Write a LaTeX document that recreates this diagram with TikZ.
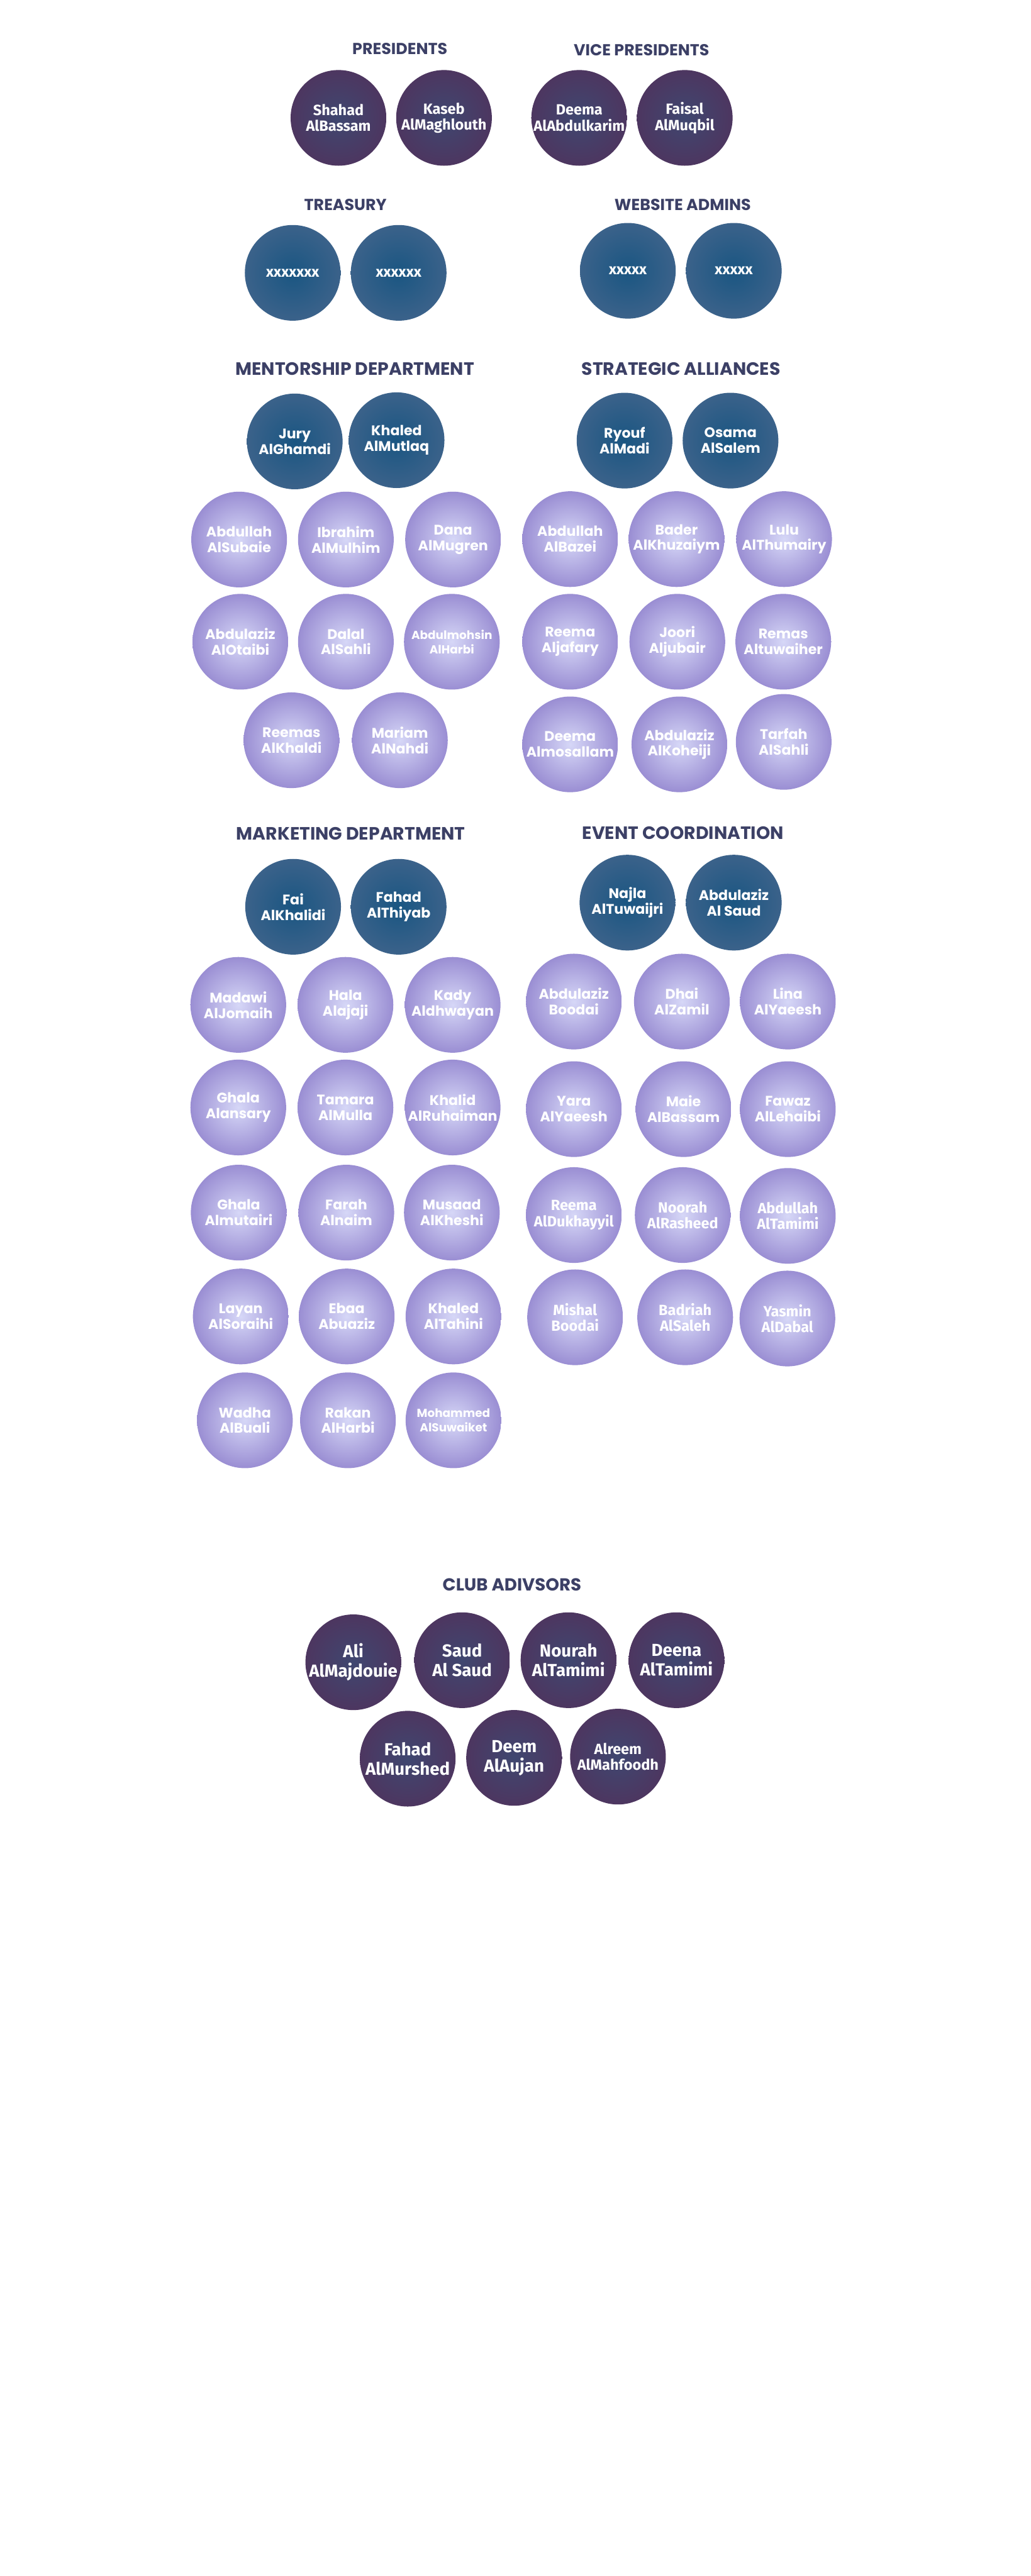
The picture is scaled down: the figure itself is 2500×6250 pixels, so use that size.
\documentclass[tikz,border=0pt]{standalone}
\usepackage{fontspec}
\setmainfont{Poppins}
\newfontfamily\firaf{Fira Sans}
\definecolor{ttl}{HTML}{3C4066}
\definecolor{purpE}{HTML}{4D3660}
\definecolor{purpC}{HTML}{3F4770}
\definecolor{blueE}{HTML}{3B628A}
\definecolor{blueC}{HTML}{1A5682}
\definecolor{lavE}{HTML}{9A8ED3}
\definecolor{lavC}{HTML}{D6D7F7}
\tikzset{
  disc/.style={circle, minimum size=2.32cm, inner sep=0pt},
  pres/.style={disc, inner color=purpC, outer color=purpE},
  lead/.style={disc, inner color=blueC, outer color=blueE},
  lav/.style={disc, inner color=lavC, outer color=lavE},
  nmA/.style={text=white, align=center, inner sep=0pt, font=\firaf\bfseries\fontsize{10.2}{11}\selectfont},
  nmAL/.style={text=white, align=center, inner sep=0pt, font=\firaf\bfseries\fontsize{12}{13.5}\selectfont},
  nmB/.style={text=white, align=center, inner sep=0pt, font=\bfseries\fontsize{9.6}{10.8}\selectfont},
  nmBs/.style={text=white, align=center, inner sep=0pt, font=\bfseries\fontsize{8}{10}\selectfont},
  ttlA/.style={text=ttl, inner sep=0pt, font=\bfseries\fontsize{11}{13}\selectfont},
  ttlB/.style={text=ttl, inner sep=0pt, font=\bfseries\fontsize{12.3}{14}\selectfont}
}
\newcommand\mem[5]{\node[#1] (#2) at (#3) {}; \node[#4] (#2t) at (#2) {#5};}
\begin{document}
\begin{tikzpicture}[x=0.01cm, y=-0.01cm]
\fill[white] (0,0) rectangle (2500,6250);
\useasboundingbox (0,0) rectangle (2500,6250);
% titles
\node[ttlA] (tPres) at (970,118) {PRESIDENTS};
\node[ttlA] (tVice) at (1556,122) {VICE PRESIDENTS};
\node[ttlA] (tTreas) at (838,496) {TREASURY};
\node[ttlA] (tWeb) at (1656,496) {WEBSITE ADMINS};
\node[ttlB] (tMent) at (861,895) {MENTORSHIP DEPARTMENT};
\node[ttlB] (tStrat) at (1652,895) {STRATEGIC ALLIANCES};
\node[ttlB] (tMark) at (851,2023) {MARKETING DEPARTMENT};
\node[ttlB] (tEvent) at (1657,2021) {EVENT COORDINATION};
\node[ttlA, font=\bfseries\fontsize{12}{14}\selectfont] (tAdv) at (1242,3845) {CLUB ADIVSORS};
% presidents / vice presidents
\mem{pres}{p1}{821,286}{nmA}{Shahad\\AlBassam}
\mem{pres}{p2}{1077,286}{nmA}{Kaseb\\AlMaghlouth}
\mem{pres}{v1}{1405,286}{nmA}{Deema\\AlAbdulkarim}
\mem{pres}{v2}{1661,286}{nmA}{Faisal\\AlMuqbil}
% treasury / website
\mem{lead}{tr1}{710,662}{nmA}{xxxxxxx}
\mem{lead}{tr2}{967,662}{nmA}{xxxxxx}
\mem{lead}{w1}{1523,657}{nmA}{xxxxx}
\mem{lead}{w2}{1780,657}{nmA}{xxxxx}
% mentorship
\mem{lead}{m1}{715,1071}{nmB}{Jury\\AlGhamdi}
\mem{lead}{m2}{962,1068}{nmB}{Khaled\\AlMutlaq}
\mem{lav}{m3}{580,1309}{nmB}{Abdullah\\AlSubaie}
\mem{lav}{m4}{839,1309}{nmB}{Ibrahim\\AlMulhim}
\mem{lav}{m5}{1099,1309}{nmB}{Dana\\AlMugren}
\mem{lav}{m6}{583,1557}{nmB}{Abdulaziz\\AlOtaibi}
\mem{lav}{m7}{839,1557}{nmB}{Dalal\\AlSahli}
\mem{lav}{m8}{1096,1557}{nmBs}{Abdulmohsin\\AlHarbi}
\mem{lav}{m9}{707,1796}{nmB}{Reemas\\AlKhaldi}
\mem{lav}{m10}{970,1796}{nmB}{Mariam\\AlNahdi}
% strategic alliances
\mem{lead}{s1}{1515,1069}{nmB}{Ryouf\\AlMadi}
\mem{lead}{s2}{1772,1069}{nmB}{Osama\\AlSalem}
\mem{lav}{s3}{1383,1308}{nmB}{Abdullah\\AlBazei}
\mem{lav}{s4}{1641,1308}{nmB}{Bader\\AlKhuzaiym}
\mem{lav}{s5}{1902,1308}{nmB}{Lulu\\AlThumairy}
\mem{lav}{s6}{1383,1557}{nmB}{Reema\\Aljafary}
\mem{lav}{s7}{1643,1557}{nmB}{Joori\\Aljubair}
\mem{lav}{s8}{1900,1557}{nmB}{Remas\\Altuwaiher}
\mem{lav}{s9}{1383,1806}{nmB}{Deema\\Almosallam}
\mem{lav}{s10}{1648,1806}{nmB}{Abdulaziz\\AlKoheiji}
\mem{lav}{s11}{1901,1800}{nmB}{Tarfah\\AlSahli}
% marketing
\mem{lead}{k1}{711,2200}{nmB}{Fai\\AlKhalidi}
\mem{lead}{k2}{967,2200}{nmB}{Fahad\\AlThiyab}
\mem{lav}{k3}{578,2438}{nmB}{Madawi\\AlJomaih}
\mem{lav}{k4}{838,2438}{nmB}{Hala\\Alajaji}
\mem{lav}{k5}{1098,2438}{nmB}{Kady\\Aldhwayan}
\mem{lav}{k6}{578,2687}{nmB}{Ghala\\Alansary}
\mem{lav}{k7}{838,2687}{nmB}{Tamara\\AlMulla}
\mem{lav}{k8}{1098,2687}{nmB}{Khalid\\AlRuhaiman}
\mem{lav}{k9}{579,2942}{nmB}{Ghala\\Almutairi}
\mem{lav}{k10}{840,2942}{nmB}{Farah\\Alnaim}
\mem{lav}{k11}{1096,2942}{nmB}{Musaad\\AlKheshi}
\mem{lav}{k12}{584,3194}{nmB}{Layan\\AlSoraihi}
\mem{lav}{k13}{841,3194}{nmB}{Ebaa\\Abuaziz}
\mem{lav}{k14}{1100,3194}{nmB}{Khaled\\AlTahini}
\mem{lav}{k15}{594,3446}{nmB}{Wadha\\AlBuali}
\mem{lav}{k16}{844,3446}{nmB}{Rakan\\AlHarbi}
\mem{lav}{k17}{1100,3446}{nmBs}{Mohammed\\AlSuwaiket}
% event coordination
\mem{lead}{e1}{1522,2190}{nmB}{Najla\\AlTuwaijri}
\mem{lead}{e2}{1780,2190}{nmB}{Abdulaziz\\Al Saud}
\mem{lav}{e3}{1392,2430}{nmB}{Abdulaziz\\Boodai}
\mem{lav}{e4}{1654,2430}{nmB}{Dhai\\AlZamil}
\mem{lav}{e5}{1911,2430}{nmB}{Lina\\AlYaeesh}
\mem{lav}{e6}{1392,2691}{nmB}{Yara\\AlYaeesh}
\mem{lav}{e7}{1658,2691}{nmB}{Maie\\AlBassam}
\mem{lav}{e8}{1911,2691}{nmB}{Fawaz\\AlLehaibi}
\mem{lav}{e9}{1392,2948}{nmA}{Reema\\AlDukhayyil}
\mem{lav}{e10}{1656,2948}{nmA}{Noorah\\AlRasheed}
\mem{lav}{e11}{1911,2950}{nmA}{Abdullah\\AlTamimi}
\mem{lav}{e12}{1395,3196}{nmA}{Mishal\\Boodai}
\mem{lav}{e13}{1662,3196}{nmA}{Badriah\\AlSaleh}
\mem{lav}{e14}{1910,3199}{nmA}{Yasmin\\AlDabal}
% advisors
\mem{pres}{a1}{857,4033}{nmAL}{Ali\\AlMajdouie}
\mem{pres}{a2}{1121,4028}{nmAL}{Saud\\Al Saud}
\mem{pres}{a3}{1379,4028}{nmAL}{Nourah\\AlTamimi}
\mem{pres}{a4}{1641,4028}{nmAL}{Deena\\AlTamimi}
\mem{pres}{a5}{989,4267}{nmAL}{Fahad\\AlMurshed}
\mem{pres}{a6}{1247,4265}{nmAL}{Deem\\AlAujan}
\mem{pres}{a7}{1499,4262}{nmA}{Alreem\\AlMahfoodh}
\end{tikzpicture}
\end{document}
